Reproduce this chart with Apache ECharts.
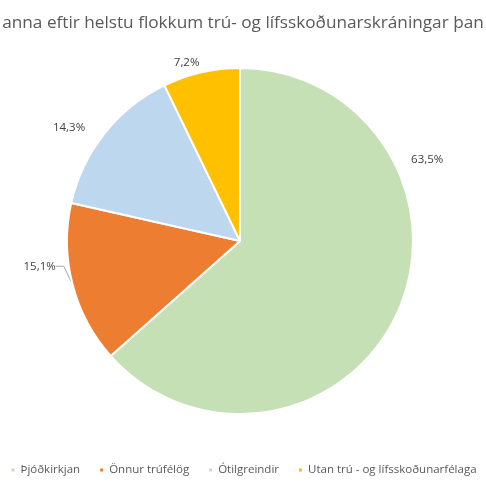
<!DOCTYPE html>
<html><head><meta charset="utf-8">
<script src="https://cdn.jsdelivr.net/npm/echarts@6/dist/echarts.min.js"></script>
<style>html,body{margin:0;padding:0;background:#fff}#c{width:486px;height:486px}</style>
</head><body><div id="c"></div>
<script>
const titleText = 'anna eftir helstu flokkum trú- og lífsskoðunarskráningar þan';
const categories = ['Þjóðkirkjan', 'Önnur trúfélög', 'Ótilgreindir', 'Utan trú - og lífsskoðunarfélaga'];
const values = [63.5, 15.1, 14.3, 7.2];
const colors = ['#C5E0B4', '#ED7D31', '#BDD7EE', '#FFC000'];

// label nudges (Excel "best fit" placement) and which labels keep a leader line
const labelShift = [[-7, -155], [4, -20], [0, -1], [13, -2]];
const showLine = [false, true, false, false];

const chart = echarts.init(document.getElementById('c'));
chart.setOption({
  animation: false,
  color: colors,
  title: {
    text: titleText, left: 'center', top: 10,
    textStyle: { fontFamily: 'Open Sans', fontSize: 17.2, fontWeight: 'normal', color: '#595959' }
  },
  legend: {
    bottom: 5, left: 'center', itemWidth: 5, itemHeight: 5, itemGap: 18, icon: 'rect',
    textStyle: { fontFamily: 'Open Sans', fontSize: 11.5, color: '#595959' },
    data: categories
  },
  series: [{
    type: 'pie', radius: 173, center: [240, 241], startAngle: 90, clockwise: true,
    itemStyle: { borderColor: '#fff', borderWidth: 2 },
    label: {
      formatter: p => p.value.toFixed(1).replace('.', ',') + '%',
      fontFamily: 'Open Sans', fontSize: 11.5, color: '#404040'
    },
    labelLine: { show: true, length: 8, length2: 8, lineStyle: { color: '#A6A6A6' } },
    labelLayout: p => {
      const r = p.labelRect, s = labelShift[p.dataIndex];
      return { x: r.x + r.width / 2 + s[0], y: r.y + r.height / 2 + s[1], align: 'center', verticalAlign: 'middle' };
    },
    data: categories.map((c, i) => ({ name: c, value: values[i], labelLine: { show: showLine[i] } }))
  }]
});
</script></body></html>
